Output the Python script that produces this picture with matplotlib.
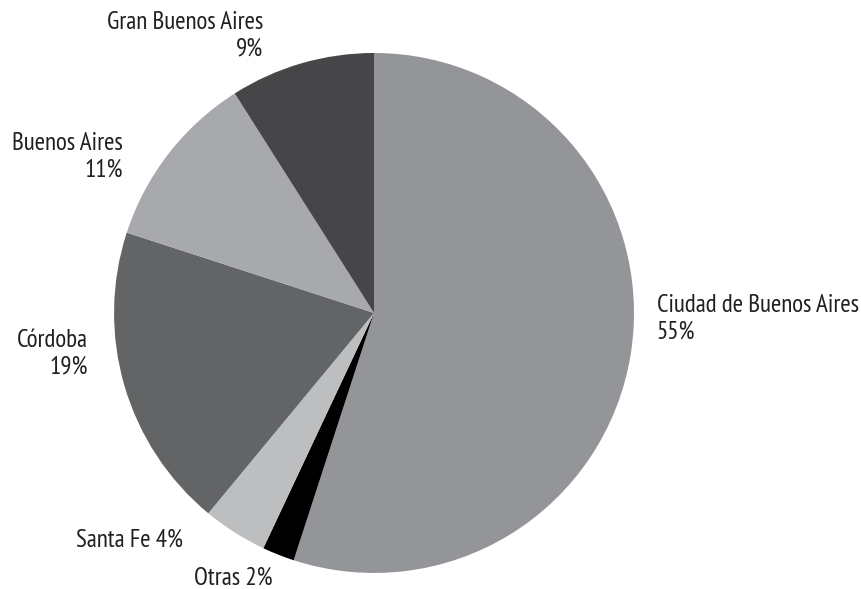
import matplotlib
matplotlib.use("Agg")
import matplotlib.pyplot as plt

# data
regions = ["Ciudad de Buenos Aires", "Otras", "Santa Fe", "Córdoba",
           "Buenos Aires", "Gran Buenos Aires"]
shares = [55, 2, 4, 19, 11, 9]
colors = ["#939598", "#000000", "#bcbec0", "#636466", "#a7a9ac", "#464649"]

# label layout: (x, y, ha, two_lines) in data units of the pie
label_pos = [(1.088, -0.023, "left", True),
             (-0.542, -1.02, "center", False),
             (-0.735, -0.873, "right", False),
             (-1.10, -0.158, "right", True),
             (-0.965, 0.60, "right", True),
             (-0.427, 1.065, "right", True)]

plt.rcParams["font.family"] = ["PT Sans Narrow", "DejaVu Sans"]

fig = plt.figure(figsize=(8.62, 5.89), dpi=100)
ax = fig.add_axes([0.1323, 0.0272, 0.6032, 0.8829])
ax.pie(shares, colors=colors, startangle=90, counterclock=False,
       radius=1, wedgeprops=dict(linewidth=0))
ax.set_xlim(-1, 1)
ax.set_ylim(-1, 1)
ax.set_aspect("equal")
ax.axis("off")

for name, val, (x, y, ha, two) in zip(regions, shares, label_pos):
    txt = f"{name}\n{val}%" if two else f"{name} {val}%"
    ax.text(x, y, txt, ha=ha, va="center", multialignment=ha,
            fontsize=18, color="#231f20", linespacing=1.2, clip_on=False)

fig.savefig("out.png", dpi=100)
